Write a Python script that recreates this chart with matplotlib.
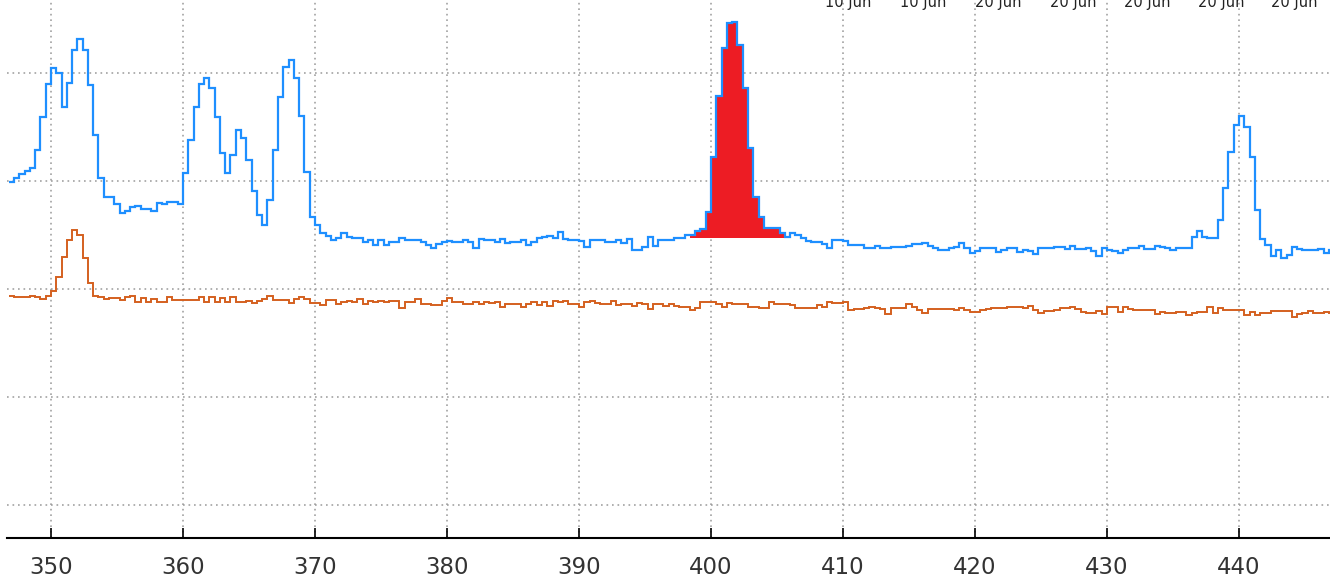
import numpy as np
import matplotlib
matplotlib.use("Agg")
import matplotlib.pyplot as plt

# histogram bins (nm), 0.4 wide
bin_start = 346.8
bin_width = 0.4

blue_counts = [
    358, 362, 366, 369, 372, 390, 423, 456, 472, 467,
    433, 457, 490, 501, 490, 455, 405, 362, 343, 343,
    336, 327, 329, 333, 334, 331, 331, 329, 337, 336,
    338, 338, 336, 367, 400, 433, 456, 462, 452, 423,
    387, 367, 385, 410, 402, 380, 349, 325, 315, 340,
    390, 443, 473, 480, 462, 424, 368, 323, 315, 307,
    304, 300, 302, 307, 303, 302, 302, 298, 300, 295,
    300, 295, 298, 298, 302, 300, 300, 300, 298, 295,
    292, 296, 298, 299, 298, 298, 300, 298, 292, 301,
    300, 300, 298, 301, 297, 298, 298, 300, 295, 298,
    302, 303, 304, 302, 308, 301, 300, 300, 299, 293,
    300, 300, 300, 298, 298, 300, 297, 301, 290, 290,
    293, 303, 294, 300, 300, 300, 302, 302, 305, 305,
    309, 311, 328, 383, 444, 492, 517, 518, 495, 452,
    392, 343, 323, 312, 312, 312, 307, 303, 307, 305,
    302, 299, 298, 298, 296, 292, 300, 300, 299, 295,
    295, 295, 292, 292, 294, 292, 292, 293, 293, 293,
    294, 296, 296, 297, 294, 292, 290, 290, 292, 293,
    297, 292, 287, 289, 292, 292, 292, 288, 290, 292,
    292, 288, 290, 289, 286, 292, 292, 292, 293, 293,
    291, 294, 291, 291, 292, 289, 284, 292, 290, 289,
    287, 290, 292, 292, 294, 291, 291, 294, 293, 292,
    290, 292, 292, 292, 303, 309, 303, 302, 302, 320,
    352, 388, 415, 424, 413, 383, 330, 301, 295, 284,
    290, 282, 285, 293, 291, 290, 290, 290, 291, 287,
    290,
]

orange_counts = [
    244, 243, 243, 243, 244, 243, 241, 244, 249, 263,
    283, 300, 310, 305, 282, 257, 244, 243, 241, 242,
    242, 240, 243, 244, 238, 242, 238, 241, 238, 238,
    243, 240, 240, 240, 240, 240, 243, 238, 243, 238,
    242, 238, 243, 238, 238, 239, 237, 239, 241, 244,
    240, 240, 240, 237, 241, 243, 241, 237, 237, 235,
    240, 240, 236, 238, 239, 238, 241, 236, 239, 238,
    239, 238, 239, 239, 232, 238, 238, 241, 236, 236,
    235, 235, 239, 242, 238, 238, 236, 236, 238, 236,
    238, 237, 238, 233, 236, 236, 236, 233, 236, 238,
    235, 238, 234, 239, 238, 239, 236, 236, 233, 238,
    239, 237, 236, 236, 239, 235, 236, 236, 234, 237,
    236, 231, 236, 236, 234, 236, 234, 233, 233, 230,
    232, 238, 238, 238, 236, 233, 237, 236, 236, 236,
    233, 233, 232, 232, 238, 236, 236, 236, 235, 232,
    232, 232, 232, 235, 233, 238, 237, 237, 238, 230,
    231, 231, 232, 233, 232, 231, 226, 232, 232, 232,
    236, 233, 230, 227, 231, 231, 231, 231, 231, 230,
    232, 230, 228, 228, 230, 231, 232, 232, 232, 233,
    233, 233, 232, 234, 230, 227, 229, 229, 230, 232,
    232, 233, 231, 228, 227, 227, 229, 226, 233, 233,
    228, 233, 231, 230, 230, 230, 230, 226, 228, 227,
    227, 228, 228, 225, 227, 228, 228, 233, 227, 232,
    230, 230, 230, 230, 225, 228, 225, 227, 227, 229,
    229, 229, 229, 223, 226, 227, 229, 227, 227, 228,
    227,
]

# highlighted peak window and its base level
red_lo, red_hi = 398.4, 406.0
red_base = 302

xticks = [350, 360, 370, 380, 390, 400, 410, 420, 430, 440]
yticks = [35, 143, 251, 359, 467]

# second axis date labels (clipped at the top of the picture)
date_labels = ["10 Jun", "10 Jun", "20 Jun", "20 Jun", "20 Jun", "20 Jun", "20 Jun"]
date_pos = [848, 923, 998, 1073, 1147, 1221, 1294]

blue = np.array(blue_counts, dtype=float)
orange = np.array(orange_counts, dtype=float)
edges = bin_start + bin_width * np.arange(len(blue) + 1)

W, H = 1330, 579
fig = plt.figure(figsize=(W / 100, H / 100), dpi=100)
ax = fig.add_axes([7 / W, 1 - 538 / H, 1 - 7 / W, 538 / H])

# red filled peak under the blue outline
lo = int(round((red_lo - bin_start) / bin_width))
hi = int(round((red_hi - bin_start) / bin_width))
ax.stairs(blue[lo:hi], edges[lo:hi + 1], baseline=red_base, fill=True,
          color="#ED1C24", lw=0, zorder=2)

ax.stairs(orange, edges, baseline=None, color="#D4601F", lw=1.4, zorder=3)
ax.stairs(blue, edges, baseline=None, color="#1E8FFF", lw=1.6, zorder=4)

ax.set_xlim(346.67, 446.89)
ax.set_ylim(2, 540)
ax.set_xticks(xticks)
ax.set_yticks(yticks)
ax.grid(True, color="#9a9a9a", linestyle=(0, (1.1, 2.5)), lw=1.1)
ax.set_axisbelow(True)

for s in ["top", "left", "right"]:
    ax.spines[s].set_visible(False)
ax.spines["bottom"].set_linewidth(1.5)
ax.tick_params(axis="x", direction="in", length=7.5, width=1.2, pad=13,
               labelsize=16.5, labelcolor="#333333")
ax.tick_params(axis="y", left=False, labelleft=False)

for lab, px in zip(date_labels, date_pos):
    fig.text(px / W, 1 - 7.5 / H, lab, ha="center", va="baseline",
             fontsize=10.5, color="#222222")

fig.savefig("out.png", dpi=100)
